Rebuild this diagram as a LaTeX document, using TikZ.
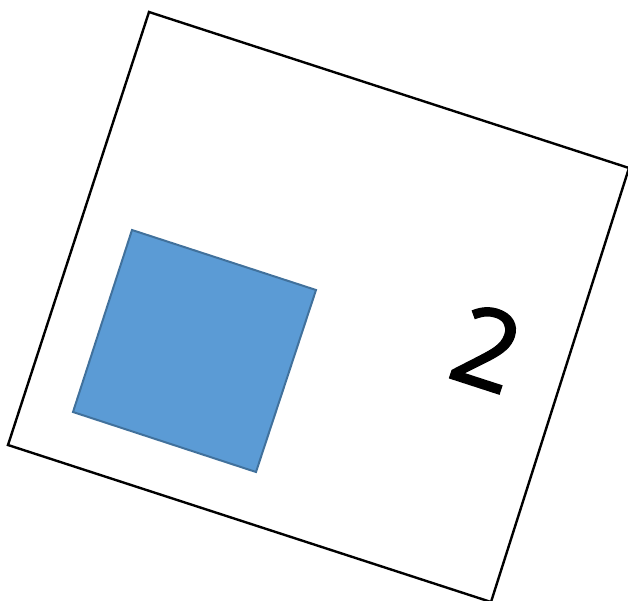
\documentclass[tikz,border=0pt]{standalone}
\usepackage{fontspec}
\setmainfont{Open Sans}
\newfontfamily\digitfont[FakeBold=1.6]{Open Sans}
\definecolor{tileblue}{HTML}{5B9BD5}
\definecolor{tileedge}{HTML}{41719C}

\begin{document}
\begin{tikzpicture}[
    x=1pt, y=-1pt,
    frame/.style={draw=black, line width=2.4pt},
    tile/.style={fill=tileblue, draw=tileedge, line width=2pt},
  ]

  \useasboundingbox (0,0) rectangle (628,601);
  \clip (0,0) rectangle (628,601);

  % Outer frame
  \coordinate (fa) at (149,12);
  \coordinate (fb) at (629,168);
  \coordinate (fc) at (491,602);
  \coordinate (fd) at (8,445);
  \draw[frame] (fa) -- (fb) -- (fc) -- (fd) -- cycle;

  % Blue square
  \coordinate (ta) at (132,230);
  \coordinate (tb) at (316,290);
  \coordinate (tc) at (256,472);
  \coordinate (td) at (73,412);
  \draw[tile] (ta) -- (tb) -- (tc) -- (td) -- cycle;

  % Digit
  \node[rotate=-18, inner sep=0pt, font=\digitfont\fontsize{110}{110}\selectfont]
    (digit) at (487,348) {2};

\end{tikzpicture}
\end{document}
